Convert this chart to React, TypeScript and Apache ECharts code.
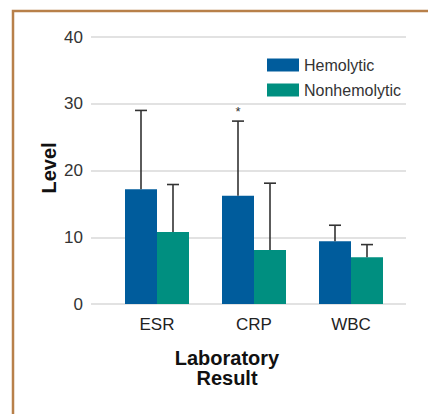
import React, { useEffect, useRef } from "react";
import * as echarts from "echarts";

const categories = ["ESR", "CRP", "WBC"];
const hemolytic = [17.2, 16.2, 9.4];
const hemolyticErrTop = [29.0, 27.4, 11.8];
const nonhemolytic = [10.8, 8.1, 7.0];
const nonhemolyticErrTop = [17.9, 18.1, 8.9];
const hemolyticMarks = ["", "*", ""];
const yTicks = [0, 10, 20, 30, 40];

const FONT = "'Liberation Sans', Arial, Helvetica, sans-serif";
const BAR_W = 32;

function errSeries(name: string, vals: number[], tops: number[], offset: number, marks: string[]) {
  return {
    type: "custom",
    name,
    xAxisIndex: 1,
    yAxisIndex: 1,
    z: 5,
    data: vals.map((v, i) => [i, v, tops[i], marks[i]]),
    renderItem: (params: any, api: any) => {
      const base = api.coord([api.value(0), api.value(1)]);
      const top = api.coord([api.value(0), api.value(2)]);
      const x = base[0] + offset;
      const mark = marks[params.dataIndex];
      const children: any[] = [
        {
          type: "line",
          shape: { x1: x, y1: base[1], x2: x, y2: top[1] },
          style: { stroke: "#333", lineWidth: 1.6 },
        },
        {
          type: "line",
          shape: { x1: x - 6, y1: top[1], x2: x + 6, y2: top[1] },
          style: { stroke: "#333", lineWidth: 1.6 },
        },
      ];
      if (mark) {
        children.push({
          type: "text",
          x: x,
          y: top[1] - 3,
          style: {
            text: mark,
            fontSize: 13,
            fontFamily: FONT,
            fill: "#333",
            align: "center",
            verticalAlign: "bottom",
          },
        });
      }
      return { type: "group", children };
    },
  };
}

export default function App() {
  const ref = useRef<HTMLDivElement>(null);
  useEffect(() => {
    if (!ref.current) return;
    const chart = echarts.init(ref.current, null, { renderer: "svg" });
    chart.setOption({
      animation: false,
      backgroundColor: "#ffffff",
      textStyle: { fontFamily: FONT },
      grid: [
        { left: 91, right: 22, top: 37, bottom: 110 },
        { left: 108.5, right: 28.5, top: 37, bottom: 110 },
      ],
      legend: {
        data: ["Hemolytic", "Nonhemolytic"],
        orient: "vertical",
        left: 267,
        top: 56,
        padding: 0,
        itemWidth: 32,
        itemHeight: 13,
        itemGap: 7,
        icon: "rect",
        textStyle: { fontSize: 16, color: "#333", fontFamily: FONT, lineHeight: 18 },
      },
      xAxis: [
        {
          type: "value",
          gridIndex: 0,
          min: 0,
          max: 1,
          show: false,
        },
        {
          type: "category",
          gridIndex: 1,
          data: categories,
          axisLine: { show: false },
          axisTick: { show: false },
          axisLabel: { fontSize: 17, color: "#222", margin: 12, fontFamily: FONT },
        },
      ],
      yAxis: [
        {
          type: "value",
          gridIndex: 0,
          min: yTicks[0],
          max: yTicks[yTicks.length - 1],
          interval: 10,
          axisLine: { show: false },
          axisTick: { show: false },
          axisLabel: { fontSize: 17, color: "#333", margin: 8, fontFamily: FONT },
          splitLine: { lineStyle: { color: "#d9d9d9", width: 1.5 } },
        },
        {
          type: "value",
          gridIndex: 1,
          min: yTicks[0],
          max: yTicks[yTicks.length - 1],
          interval: 10,
          show: false,
          splitLine: { show: false },
        },
      ],
      series: [
        {
          type: "bar",
          name: "Hemolytic",
          xAxisIndex: 1,
          yAxisIndex: 1,
          data: hemolytic,
          barWidth: BAR_W,
          barGap: "0%",
          itemStyle: { color: "#005c9c" },
          z: 3,
        },
        {
          type: "bar",
          name: "Nonhemolytic",
          xAxisIndex: 1,
          yAxisIndex: 1,
          data: nonhemolytic,
          barWidth: BAR_W,
          barGap: "0%",
          itemStyle: { color: "#008f80" },
          z: 3,
        },
        errSeries("errH", hemolytic, hemolyticErrTop, -BAR_W / 2, hemolyticMarks),
        errSeries("errN", nonhemolytic, nonhemolyticErrTop, BAR_W / 2, ["", "", ""]),
      ],
      graphic: [
        {
          type: "polyline",
          shape: { points: [[13, 414], [13, 11], [428, 11]] },
          style: { stroke: "#b8804a", lineWidth: 2.5, fill: "none" },
          z: 10,
        },
        {
          type: "text",
          x: 49,
          y: 168,
          rotation: Math.PI / 2,
          style: {
            text: "Level",
            fontSize: 20,
            fontWeight: "bold",
            fontFamily: FONT,
            fill: "#111",
            align: "center",
            verticalAlign: "middle",
          },
        },
        {
          type: "text",
          x: 227,
          y: 368,
          style: {
            text: "Laboratory\nResult",
            fontSize: 20,
            fontWeight: "bold",
            fontFamily: FONT,
            fill: "#111",
            align: "center",
            verticalAlign: "middle",
            lineHeight: 20,
          },
        },
      ],
    });
    return () => chart.dispose();
  }, []);
  return (
    <div
      ref={ref}
      style={{ position: "absolute", left: 0, top: 0, width: 428, height: 414 }}
    />
  );
}
